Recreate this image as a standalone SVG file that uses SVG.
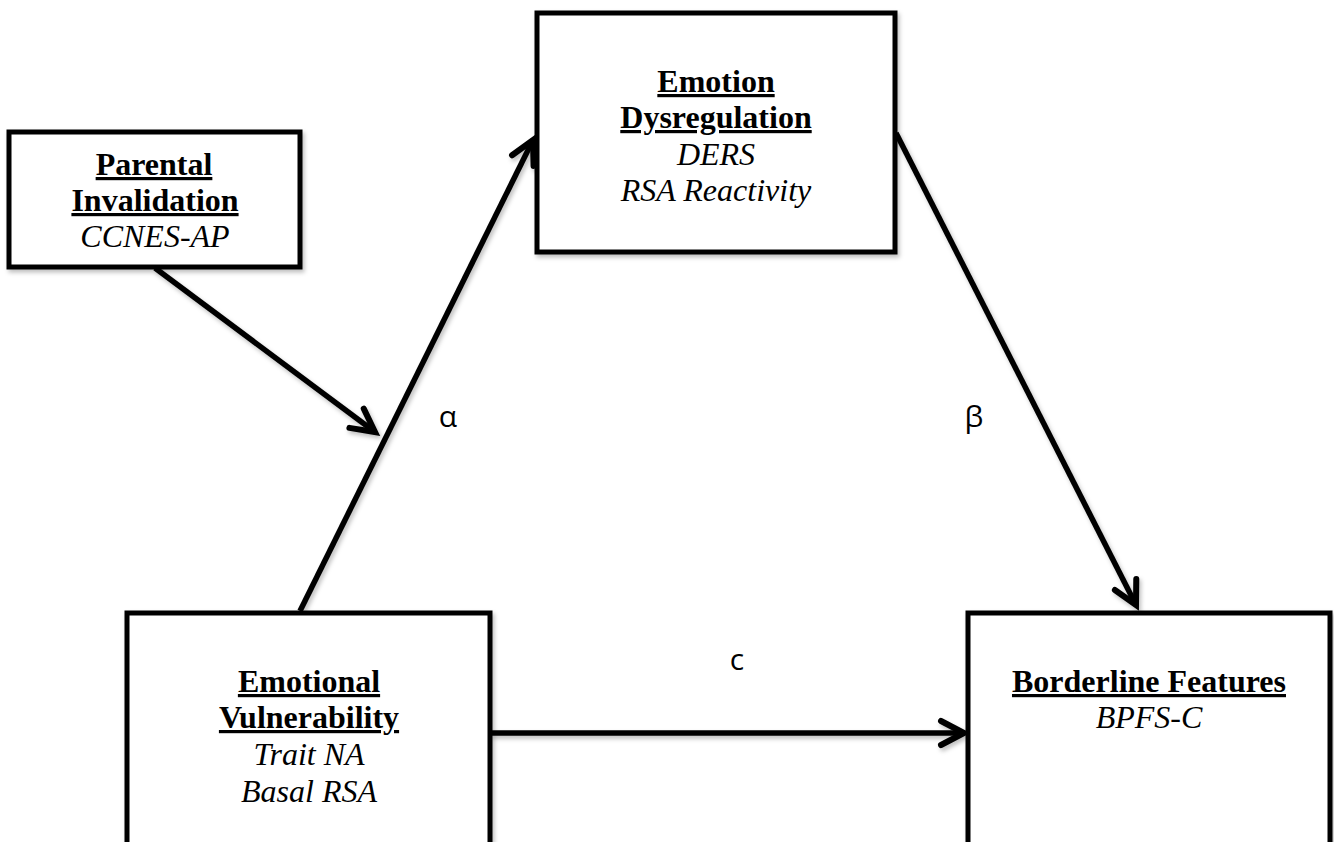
<svg xmlns="http://www.w3.org/2000/svg" width="1334" height="842" viewBox="0 0 1334 842">
<style>
.box{fill:#fff;stroke:#000;stroke-width:5;filter:url(#sh)}
.h{font-family:"Liberation Serif",serif;font-weight:bold;font-size:32px;text-anchor:middle;text-decoration:underline}
.s{font-family:"Liberation Serif",serif;font-style:italic;font-size:32px;text-anchor:middle}
.lbl{font-family:"Open Sans","Noto Sans",sans-serif;font-size:30px;text-anchor:middle}
.c{stroke:#000;stroke-width:5.5;fill:none;marker-end:url(#ah);filter:url(#sh)}
</style>
<defs>
<filter id="sh" filterUnits="userSpaceOnUse" x="0" y="0" width="1334" height="842">
<feDropShadow dx="2" dy="3" stdDeviation="2" flood-color="#000" flood-opacity="0.25"/>
</filter>
<marker id="ah" markerUnits="userSpaceOnUse" markerWidth="40" markerHeight="40" viewBox="-30 -20 40 40" refX="0" refY="0" orient="auto">
<path d="M-23,-12 L0,0 L-23,12" fill="none" stroke="#000" stroke-width="6" stroke-linecap="round" stroke-linejoin="miter"/>
</marker>
</defs>
<rect width="1334" height="842" fill="#fff"/>
<g id="connectors">
<line class="c" x1="300" y1="611" x2="533" y2="140"/>
<line class="c" x1="896" y1="133" x2="1136" y2="605"/>
<line class="c" x1="490" y1="733" x2="964" y2="733"/>
<line class="c" x1="155" y1="268" x2="375" y2="432"/>
</g>
<g id="parental">
<rect class="box" x="9" y="132" width="291" height="135"/>
<text class="h" x="154" y="175">Parental</text>
<text class="h" x="155" y="211">Invalidation</text>
<text class="s" x="155" y="247">CCNES-AP</text>
</g>
<g id="dysregulation">
<rect class="box" x="537" y="13" width="358" height="239"/>
<text class="h" x="716" y="92">Emotion</text>
<text class="h" x="716" y="128">Dysregulation</text>
<text class="s" x="716" y="165">DERS</text>
<text class="s" x="716" y="201">RSA Reactivity</text>
</g>
<g id="vulnerability">
<rect class="box" x="127" y="613" width="363" height="250"/>
<text class="h" x="309" y="692">Emotional</text>
<text class="h" x="309" y="728">Vulnerability</text>
<text class="s" x="309" y="765">Trait NA</text>
<text class="s" x="309" y="802">Basal RSA</text>
</g>
<g id="borderline">
<rect class="box" x="968" y="613" width="362" height="250"/>
<text class="h" x="1149" y="692">Borderline Features</text>
<text class="s" x="1149" y="728">BPFS-C</text>
</g>
<g id="labels">
<text class="lbl" x="448" y="427">α</text>
<text class="lbl" x="974" y="427">β</text>
<text class="lbl" x="737" y="670">c</text>
</g>
</svg>
